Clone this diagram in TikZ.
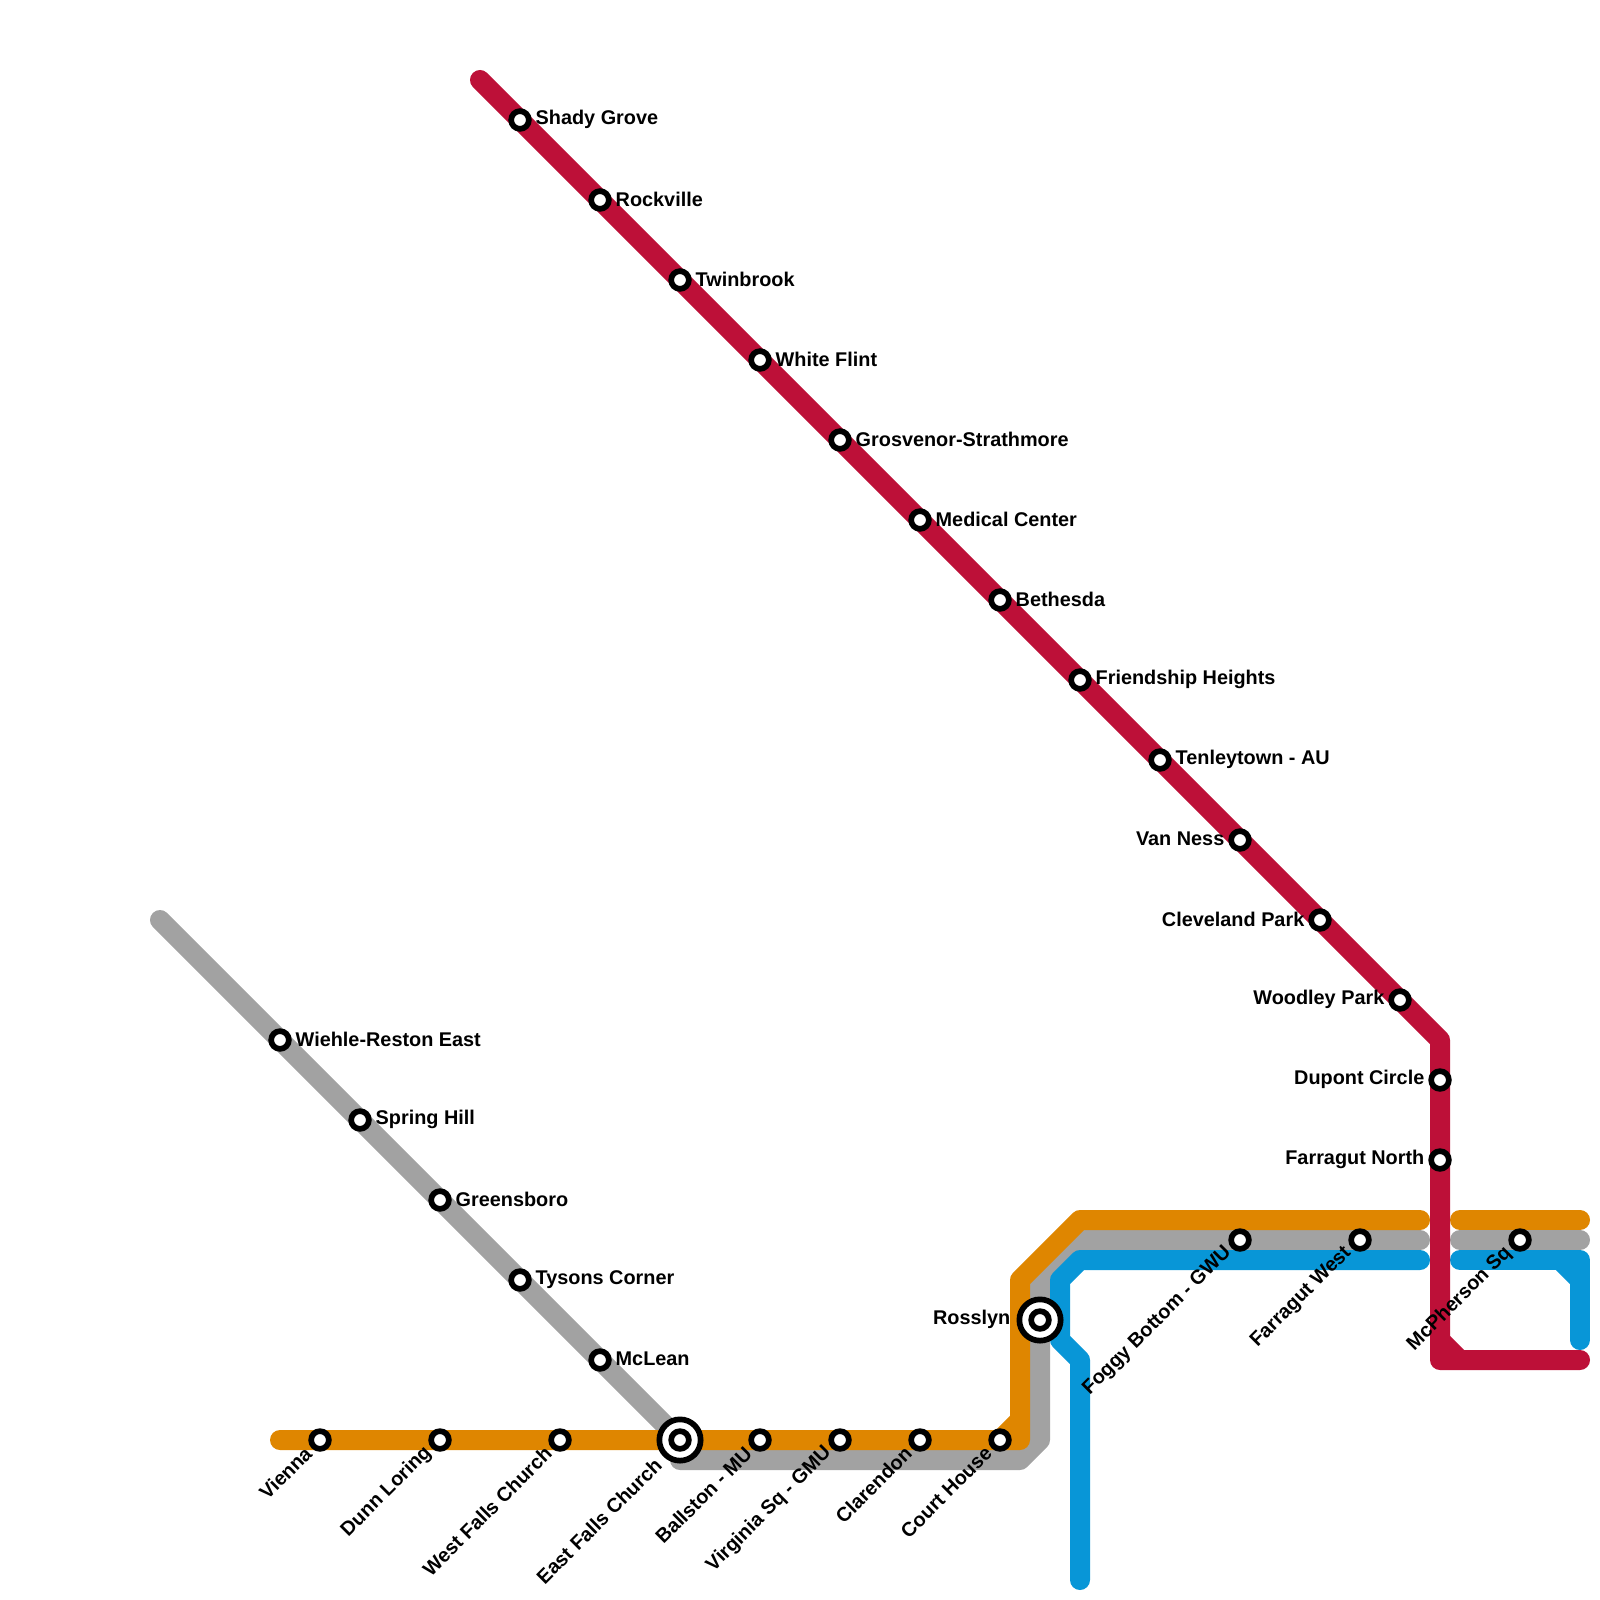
\documentclass[tikz,border=0pt]{standalone}
\usepackage{fontspec}
\setmainfont{Liberation Sans}
\definecolor{redl}{HTML}{BD1038}
\definecolor{orangel}{HTML}{DF8600}
\definecolor{grayl}{HTML}{A2A2A2}
\definecolor{bluel}{HTML}{0896D7}
\tikzset{
  metro/.style={line width=20pt,line cap=round,line join=round},
  stn/.style={circle,draw=black,fill=white,line width=5.7pt,inner sep=0pt,minimum size=17.7pt},
  hubring/.style={circle,draw=black,fill=white,line width=5.7pt,inner sep=0pt,minimum size=41.3pt},
  lab/.style={font=\fontsize{19.85}{22}\selectfont\bfseries,text=black,inner sep=0pt},
  labr/.style={lab,anchor=west,xshift=15.5pt,yshift=0.8pt},
  labl/.style={lab,anchor=east,xshift=-15.5pt,yshift=0.8pt},
  labd/.style={lab,anchor=east,rotate=45,xshift=-15.3pt,yshift=1.1pt},
}
\begin{document}
\begin{tikzpicture}[x=1pt,y=-1pt]
\useasboundingbox (0,0) rectangle (1600,1600);
% way points
\coordinate (r0) at (480,80);
\coordinate (r1) at (1440,1040);
\coordinate (r2) at (1440,1360);
\coordinate (r2a) at (1440,1340);
\coordinate (r2b) at (1460,1360);
\coordinate (r3) at (1580,1360);
\coordinate (g0) at (160,920);
\coordinate (g1) at (680,1440);
\coordinate (g2) at (680,1460);
\coordinate (g3) at (1020,1460);
\coordinate (g4) at (1040,1440);
\coordinate (g5) at (1040,1280);
\coordinate (g6) at (1080,1240);
\coordinate (g7) at (1420,1240);
\coordinate (g8) at (1460,1240);
\coordinate (g9) at (1580,1240);
\coordinate (o0) at (280,1440);
\coordinate (o1) at (1020,1440);
\coordinate (o1a) at (1000,1440);
\coordinate (o1b) at (1020,1420);
\coordinate (o2) at (1020,1280);
\coordinate (o3) at (1080,1220);
\coordinate (o4) at (1420,1220);
\coordinate (o5) at (1460,1220);
\coordinate (o6) at (1580,1220);
\coordinate (b0) at (1420,1260);
\coordinate (b1) at (1080,1260);
\coordinate (b2) at (1060,1280);
\coordinate (b3) at (1060,1340);
\coordinate (b4) at (1080,1360);
\coordinate (b5) at (1080,1580);
\coordinate (b6) at (1460,1260);
\coordinate (b7) at (1580,1260);
\coordinate (b7a) at (1560,1260);
\coordinate (b7b) at (1580,1280);
\coordinate (b8) at (1580,1340);
% lines
\draw[metro,grayl] (g0)--(g1)--(g2)--(g3)--(g4)--(g5)--(g6)--(g7);
\draw[metro,grayl] (g8)--(g9);
\draw[metro,orangel] (o0)--(o1)--(o2)--(o3)--(o4);
\draw[metro,orangel,line cap=butt] (o1a)--(o1b);
\draw[metro,orangel] (o5)--(o6);
\draw[metro,bluel] (b0)--(b1)--(b2)--(b3)--(b4)--(b5);
\draw[metro,bluel] (b6)--(b7)--(b8);
\draw[metro,bluel,line cap=butt] (b7a)--(b7b);
\draw[metro,redl] (r0)--(r1)--(r2)--(r3);
\draw[metro,redl,line cap=butt] (r2a)--(r2b);
% stations
\node[stn] (shady) at (520,120) {};
\node[stn] (rock) at (600,200) {};
\node[stn] (twin) at (680,280) {};
\node[stn] (white) at (760,360) {};
\node[stn] (gros) at (840,440) {};
\node[stn] (med) at (920,520) {};
\node[stn] (beth) at (1000,600) {};
\node[stn] (friend) at (1080,680) {};
\node[stn] (tenley) at (1160,760) {};
\node[stn] (vanness) at (1240,840) {};
\node[stn] (cleve) at (1320,920) {};
\node[stn] (woodley) at (1400,1000) {};
\node[stn] (dupont) at (1440,1080) {};
\node[stn] (farrn) at (1440,1160) {};
\node[stn] (wiehle) at (280,1040) {};
\node[stn] (spring) at (360,1120) {};
\node[stn] (green) at (440,1200) {};
\node[stn] (tysons) at (520,1280) {};
\node[stn] (mclean) at (600,1360) {};
\node[stn] (vienna) at (320,1440) {};
\node[stn] (dunn) at (440,1440) {};
\node[stn] (wfalls) at (560,1440) {};
\node[hubring] (efcring) at (680,1440) {};
\node[stn] (efc) at (680,1440) {};
\node[stn] (ball) at (760,1440) {};
\node[stn] (virg) at (840,1440) {};
\node[stn] (clar) at (920,1440) {};
\node[stn] (court) at (1000,1440) {};
\node[hubring] (rossring) at (1040,1320) {};
\node[stn] (ross) at (1040,1320) {};
\node[stn] (foggy) at (1240,1240) {};
\node[stn] (farrw) at (1360,1240) {};
\node[stn] (mcph) at (1520,1240) {};
% labels
\node[labr] (lshady) at (shady) {Shady Grove};
\node[labr] (lrock) at (rock) {Rockville};
\node[labr] (ltwin) at (twin) {Twinbrook};
\node[labr] (lwhite) at (white) {White Flint};
\node[labr] (lgros) at (gros) {Grosvenor-Strathmore};
\node[labr] (lmed) at (med) {Medical Center};
\node[labr] (lbeth) at (beth) {Bethesda};
\node[labr] (lfriend) at (friend) {Friendship Heights};
\node[labr] (ltenley) at (tenley) {Tenleytown - AU};
\node[labl] (lvanness) at (vanness) {Van Ness};
\node[labl] (lcleve) at (cleve) {Cleveland Park};
\node[labl] (lwoodley) at (woodley) {Woodley Park};
\node[labl] (ldupont) at (dupont) {Dupont Circle};
\node[labl] (lfarrn) at (farrn) {Farragut North};
\node[labr] (lwiehle) at (wiehle) {Wiehle-Reston East};
\node[labr] (lspring) at (spring) {Spring Hill};
\node[labr] (lgreen) at (green) {Greensboro};
\node[labr] (ltysons) at (tysons) {Tysons Corner};
\node[labr] (lmclean) at (mclean) {McLean};
\node[labl,xshift=-14pt] (lross) at (ross) {Rosslyn};
\node[labd] (lvienna) at (vienna) {Vienna};
\node[labd] (ldunn) at (dunn) {Dunn Loring};
\node[labd] (lwfalls) at (wfalls) {West Falls Church};
\node[labd,xshift=-15.2pt,yshift=-1.1pt] (lefc) at (efc) {East Falls Church};
\node[labd] (lball) at (ball) {Ballston - MU};
\node[labd] (lvirg) at (virg) {Virginia Sq - GMU};
\node[labd] (lclar) at (clar) {Clarendon};
\node[labd] (lcourt) at (court) {Court House};
\node[labd] (lfoggy) at (foggy) {Foggy Bottom - GWU};
\node[labd] (lfarrw) at (farrw) {Farragut West};
\node[labd] (lmcph) at (mcph) {McPherson Sq};
\end{tikzpicture}
\end{document}
